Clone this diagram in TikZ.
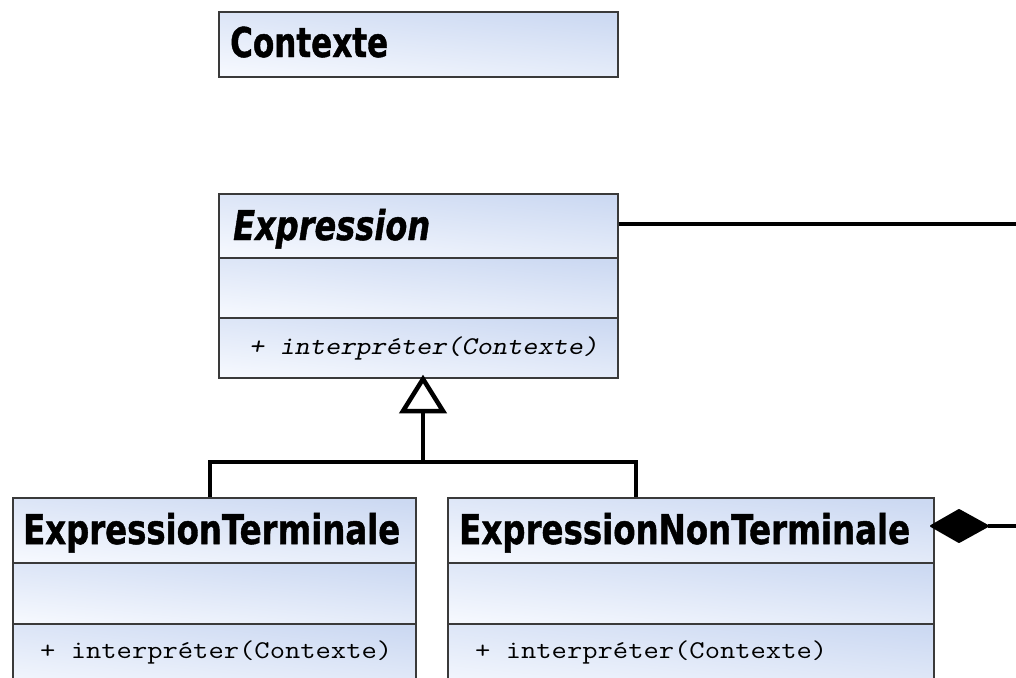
\documentclass[tikz,border=0pt]{standalone}
\usepackage{fontspec}
\setmainfont{DejaVu Sans}[BoldFeatures={FakeBold=1.2},BoldItalicFeatures={FakeBold=1.2}]
\usepackage{graphicx}
\definecolor{boxgray}{HTML}{3A3A3A}
\definecolor{boxdark}{HTML}{CCD9F2}
\definecolor{boxlight}{HTML}{F5F8FE}
\newcommand\ttl[2]{\resizebox{#1}{\height}{\fontsize{41}{41}\selectfont\bfseries #2}}
\newcommand\ttli[2]{\resizebox{#1}{\height}{\fontsize{41}{41}\selectfont\bfseries\itshape #2}}
\newcommand\meth[2]{\resizebox{#1}{0.88\height}{\fontsize{29}{29}\selectfont\ttfamily #2}}
\tikzset{
  comp/.style={draw=boxgray, line width=1.6pt, rectangle, inner sep=0pt, anchor=north west,
    top color=boxdark, bottom color=boxlight, shading angle=-6},
  lbl/.style={anchor=base west, inner sep=0pt, text=black},
  conn/.style={line width=4.5pt, draw=black, line join=miter},
}
\begin{document}
\begin{tikzpicture}[x=1pt,y=-1pt]
\clip (0,0) rectangle (1016,677);
\fill[white] (0,0) rectangle (1016,677);
% Contexte
\node[comp, minimum width=399pt, minimum height=65pt] (ctx) at (218,11) {};
\node[lbl] (ctxT) at (230,57) {\ttl{158pt}{Contexte}};
% Expression
\node[comp, minimum width=399pt, minimum height=64pt] (exH) at (218,193) {};
\node[comp, minimum width=399pt, minimum height=60pt] (exA) at (218,257) {};
\node[comp, minimum width=399pt, minimum height=60pt] (exM) at (218,317) {};
\node[lbl] (exT) at (233,240) {\ttli{197pt}{Expression}};
\node[lbl] (exMT) at (249,354) {\meth{349pt}{\slshape + interpréter(Contexte)}};
% ExpressionTerminale
\node[comp, minimum width=403pt, minimum height=65pt] (etH) at (12,497) {};
\node[comp, minimum width=403pt, minimum height=61pt] (etA) at (12,562) {};
\node[comp, minimum width=403pt, minimum height=70pt] (etM) at (12,623) {};
\node[lbl] (etT) at (23,544) {\ttl{377pt}{ExpressionTerminale}};
\node[lbl] (etMT) at (40,658) {\meth{352pt}{+ interpréter(Contexte)}};
% ExpressionNonTerminale
\node[comp, minimum width=486pt, minimum height=65pt] (entH) at (447,497) {};
\node[comp, minimum width=486pt, minimum height=61pt] (entA) at (447,562) {};
\node[comp, minimum width=486pt, minimum height=70pt] (entM) at (447,623) {};
\node[lbl] (entT) at (459,544) {\ttl{451pt}{ExpressionNonTerminale}};
\node[lbl] (entMT) at (475,658) {\meth{352pt}{+ interpréter(Contexte)}};
% coordinates
\coordinate (apex) at (423,379);
\coordinate (base) at (423,411);
\coordinate (etTop) at (210,497);
\coordinate (entTop) at (636,497);
\coordinate (bus) at (423,462);
\coordinate (rightA) at (1020,224);
\coordinate (dL) at (931,526);
\coordinate (dR) at (988,526);
\coordinate (rightB) at (1020,526);
% association Expression -> right
\draw[conn] (exH.east |- rightA) -- (rightA);
% generalization
\draw[conn] (etTop) |- (bus) -| (entTop);
\draw[conn] (bus) -- (base);
\draw[conn, fill=white] (apex) -- (403,411) -- (443,411) -- cycle;
% composition
\filldraw[line width=2pt, line join=round] (dL) -- (959,510) -- (dR) -- (959,542) -- cycle;
\draw[conn] (dR) -- (rightB);
\end{tikzpicture}
\end{document}
